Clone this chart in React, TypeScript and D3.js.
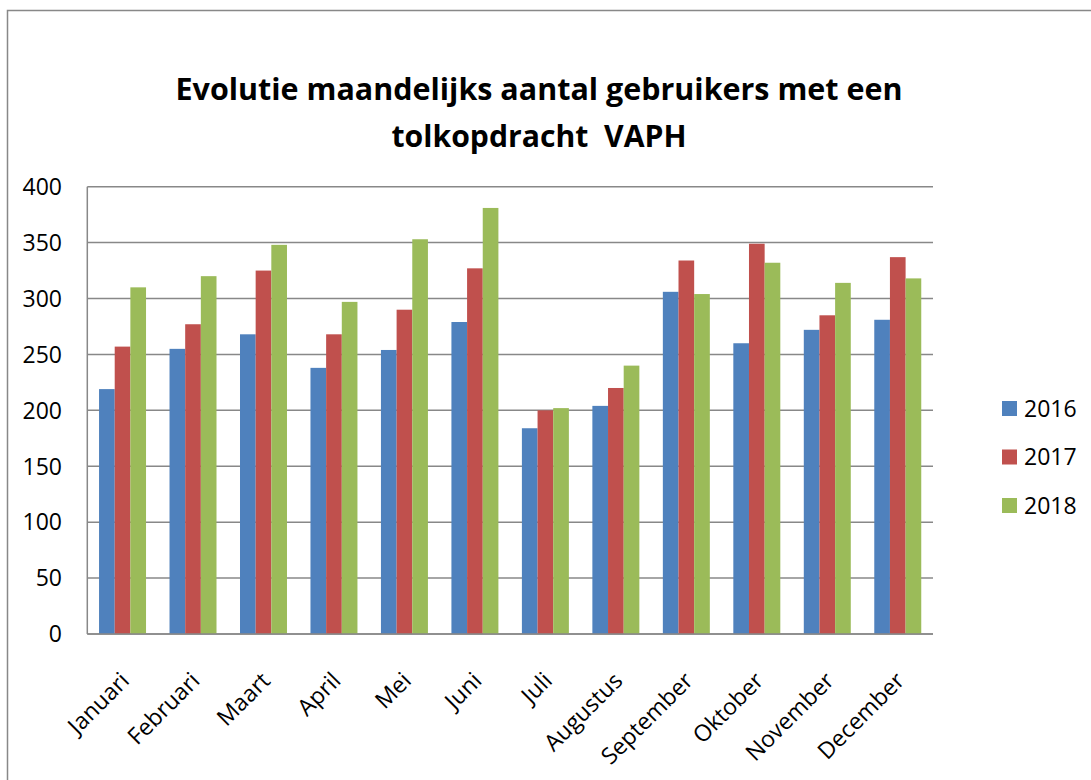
import React from "react";
import * as d3 from "d3";

const months = ["Januari","Februari","Maart","April","Mei","Juni","Juli","Augustus","September","Oktober","November","December"];
const seriesNames = ["2016","2017","2018"];
const values2016 = [219,255,268,238,254,279,184,204,306,260,272,281];
const values2017 = [257,277,325,268,290,327,200,220,334,349,285,337];
const values2018 = [310,320,348,297,353,381,202,240,304,332,314,318];
const yTicks = [0,50,100,150,200,250,300,350,400];
const colors = ["#4F81BD","#C0504D","#9BBB59"];
const titleLines = ["Evolutie maandelijks aantal gebruikers met een","tolkopdracht  VAPH"];

export default function App() {
  const W = 1091, H = 780;
  const left = 87.3, right = 933, top = 186.7, bottom = 634;
  const series = [values2016, values2017, values2018];

  const x = d3.scaleBand<string>().domain(months).range([left, right]).paddingInner(1.5/4.5).paddingOuter(0.75/4.5);
  const xs = d3.scaleBand<string>().domain(seriesNames).range([0, x.bandwidth()]);
  const y = d3.scaleLinear().domain([0, 400]).range([bottom, top]);
  const cat = d3.scaleBand<string>().domain(months).range([left, right]);

  const font = "'Open Sans', sans-serif";
  const grid = "#888888";

  return (
    <svg width={W} height={H} style={{ position: "absolute", left: 0, top: 0, background: "#fff" }}>
      <rect x={7.5} y={10.5} width={W + 10} height={H + 10} fill="#fff" stroke={grid} strokeWidth={1.5} />
      {titleLines.map((t, i) => (
        <text key={i} x={539} y={i === 0 ? 100 : 147} textAnchor="middle" fontFamily={font} fontWeight={700}
          fontSize={31} textLength={i === 0 ? 727 : 295} lengthAdjust="spacingAndGlyphs" style={{ whiteSpace: "pre" }} fill="#000">{t}</text>
      ))}
      {yTicks.map(t => (
        <g key={t}>
          <line x1={left} x2={right} y1={y(t)} y2={y(t)} stroke={grid} strokeWidth={1.5} />
          <text x={62} y={y(t)} dy="0.36em" textAnchor="end" fontFamily={font} fontSize={23} fill="#000">{t}</text>
        </g>
      ))}
      <line x1={left} x2={left} y1={top} y2={bottom} stroke={grid} strokeWidth={1.5} />
      {months.map((m, i) => (
        <g key={m}>
          {series.map((s, j) => (
            <rect key={j} x={(x(m) as number) + (xs(seriesNames[j]) as number)} y={y(s[i])} width={xs.bandwidth()}
              height={y(0) - y(s[i])} fill={colors[j]} />
          ))}
        </g>
      ))}
      <line x1={left} x2={right} y1={bottom} y2={bottom} stroke={grid} strokeWidth={1.5} />
      {months.map(m => {
        const cx = (cat(m) as number) + cat.bandwidth() / 2 - 6;
        const cy = 668;
        return (
          <text key={m} x={cx} y={cy} transform={`rotate(-45 ${cx} ${cy})`} textAnchor="end" dominantBaseline="hanging"
            fontFamily={font} fontSize={23} fill="#000">{m}</text>
        );
      })}
      {seriesNames.map((n, j) => (
        <g key={n}>
          <rect x={1002} y={401 + j * 48.5} width={15} height={15} fill={colors[j]} />
          <text x={1024} y={408.5 + j * 48.5} dy="0.36em" fontFamily={font} fontSize={23} fill="#000">{n}</text>
        </g>
      ))}
    </svg>
  );
}
